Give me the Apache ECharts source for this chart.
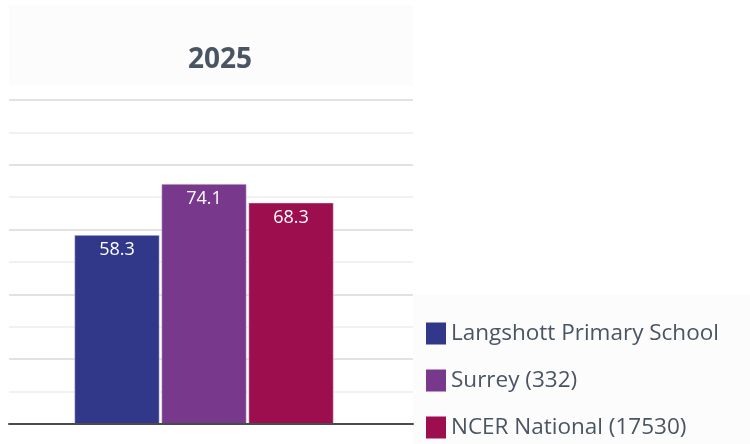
<!DOCTYPE html>
<html>
<head>
<meta charset="utf-8">
<script src="https://cdn.jsdelivr.net/npm/echarts@6/dist/echarts.min.js"></script>
<style>
  html, body { margin: 0; padding: 0; background: #fff; }
  #main { width: 750px; height: 444px; }
</style>
</head>
<body>
<div id="main"></div>
<script>
// chart data
const categories = ['2025'];
const seriesNames = ['Langshott Primary School', 'Surrey (332)', 'NCER National (17530)'];
const seriesValues = [[58.3], [74.1], [68.3]];

const palette = ['#31388a', '#78388b', '#9c0e4e'];
const textColor = '#4a5563';

const chart = echarts.init(document.getElementById('main'));

const option = {
  animation: false,
  textStyle: { fontFamily: 'Open Sans' },
  graphic: [
    // light panels behind title and legend
    { type: 'rect', left: 9, top: 5, shape: { width: 404, height: 80 }, style: { fill: '#fcfcfc' }, z: -10 },
    { type: 'rect', left: 413, top: 295, shape: { width: 337, height: 149 }, style: { fill: '#fcfcfc' }, z: -10 }
  ],
  title: {
    text: categories[0],
    left: 188,
    top: 46,
    padding: 0,
    textStyle: { fontFamily: 'Open Sans', fontSize: 28, fontWeight: 'bold', color: textColor }
  },
  legend: {
    orient: 'vertical',
    left: 426,
    top: 322,
    padding: 0,
    icon: 'rect',
    itemWidth: 20,
    itemHeight: 22,
    itemGap: 24,
    data: seriesNames,
    itemStyle: { borderWidth: 0 },
    textStyle: { fontFamily: 'Open Sans', fontSize: 22.5, color: textColor }
  },
  grid: [
    { left: 9, right: 337, top: 100, bottom: 20 },   // gridlines + axis
    { left: 0, width: 408, top: 100, bottom: 20 }    // bars
  ],
  xAxis: [
    {
      type: 'category', gridIndex: 0, data: categories, z: 10,
      axisLine: { lineStyle: { color: '#4b4b4b', width: 2 } },
      axisTick: { show: false }, axisLabel: { show: false }
    },
    {
      type: 'category', gridIndex: 1, data: categories, show: false
    }
  ],
  yAxis: [
    {
      type: 'value', gridIndex: 0, min: 0, max: 100, interval: 10,
      axisLabel: { show: false }, axisLine: { show: false }, axisTick: { show: false },
      splitLine: { lineStyle: { color: ['#d8d8d8', '#ededed'], width: 1.5 } }
    },
    {
      type: 'value', gridIndex: 1, min: 0, max: 100, show: false,
      splitLine: { show: false }
    }
  ],
  series: seriesNames.map((name, i) => ({
    name: name,
    type: 'bar',
    xAxisIndex: 1,
    yAxisIndex: 1,
    data: seriesValues[i],
    barWidth: 85,
    barGap: '2.4%',
    itemStyle: { color: palette[i], borderColor: '#e8e8f0', borderWidth: 0.5 },
    label: {
      show: true,
      position: 'insideTop',
      distance: 6,
      color: '#fff',
      fontFamily: 'Open Sans',
      fontSize: 18
    }
  }))
};

chart.setOption(option);
</script>
</body>
</html>
